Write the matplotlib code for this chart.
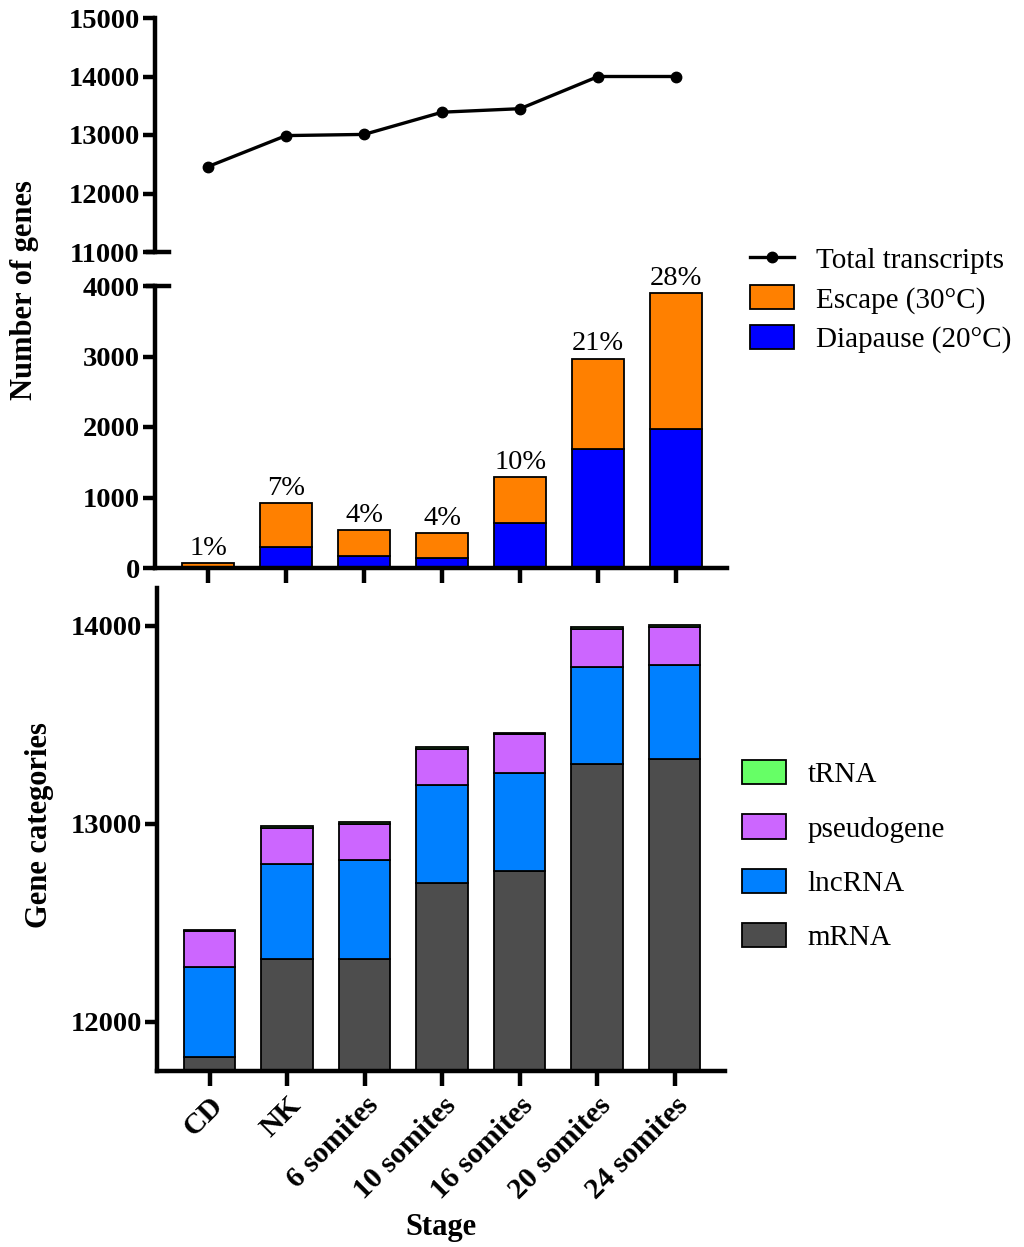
import matplotlib
matplotlib.use("Agg")
import matplotlib.pyplot as plt
import numpy as np
from matplotlib.lines import Line2D
from matplotlib.patches import Patch

plt.rcParams["font.family"] = ["Liberation Serif", "DejaVu Serif"]

stages = ["CD", "NK", "6 somites", "10 somites", "16 somites", "20 somites", "24 somites"]

# total transcripts per stage
total = [12460, 12990, 13010, 13390, 13450, 14000, 14000]

# temperature-dependent genes
diapause = [0, 295, 165, 145, 645, 1690, 1970]
escape = [75, 625, 370, 345, 645, 1280, 1930]
pct_labels = ["1%", "7%", "4%", "4%", "10%", "21%", "28%"]

# gene categories (stacked)
mrna = [11820, 12315, 12315, 12700, 12760, 13300, 13325]
lncrna = [455, 480, 500, 495, 495, 490, 475]
pseudogene = [180, 185, 185, 180, 195, 195, 195]
trna = [8, 10, 10, 10, 10, 8, 8]

c_escape = "#FF8000"
c_diapause = "#0000FF"
c_mrna = "#4D4D4D"
c_lnc = "#0080FF"
c_pseudo = "#CC66FF"
c_trna = "#66FF66"

W, H = 1024, 1247
fig = plt.figure(figsize=(W / 100, H / 100), dpi=100)

def px_axes(left, top, right, bottom):
    return fig.add_axes([left / W, 1 - bottom / H, (right - left) / W, (bottom - top) / H])

ax_top = px_axes(155, 18, 727, 252)
ax_mid = px_axes(155, 286, 727, 568)
ax_bot = px_axes(157, 588, 725, 1071)

x = np.arange(len(stages))
bw = 0.665
xlim = (-0.68, 6.65)
spine_w = 3.2
tick_kw = dict(length=9, width=spine_w, direction="out", labelsize=20.5, pad=2)

for ax in (ax_top, ax_mid, ax_bot):
    for s in ("top", "right"):
        ax.spines[s].set_visible(False)
    for s in ("left", "bottom"):
        ax.spines[s].set_linewidth(spine_w)
    ax.set_xlim(*xlim)
    ax.tick_params(axis="both", **tick_kw)

# --- total transcripts line ---
ax_top.plot(x, total, color="black", lw=2.4, marker="o", ms=7.5, clip_on=False)
ax_top.set_ylim(11000, 15000)
ax_top.set_yticks([11000, 12000, 13000, 14000, 15000])
ax_top.spines["bottom"].set_visible(False)
ax_top.tick_params(axis="x", bottom=False, labelbottom=False)
ax_top.axhline(11000, xmin=-0.013, xmax=0.025, color="black", lw=spine_w, clip_on=False)

# --- escape / diapause bars ---
ax_mid.bar(x, diapause, bw, color=c_diapause, edgecolor="black", lw=1.3)
ax_mid.bar(x, escape, bw, bottom=diapause, color=c_escape, edgecolor="black", lw=1.3)
tops = np.array(diapause) + np.array(escape)
for xi, t, lab in zip(x, tops, pct_labels):
    ax_mid.text(xi, t + 30, lab, ha="center", va="bottom", fontsize=20.5)
ax_mid.set_ylim(0, 4000)
ax_mid.set_yticks([0, 1000, 2000, 3000, 4000])
ax_mid.set_xticks(x)
ax_mid.tick_params(axis="x", labelbottom=False, length=11)
ax_mid.axhline(4000, xmin=-0.013, xmax=0.025, color="black", lw=spine_w, clip_on=False)

# --- gene categories ---
b = np.zeros(len(stages))
ax_bot.bar(x, mrna, bw, color=c_mrna, edgecolor="black", lw=1.3)
b += mrna
ax_bot.bar(x, lncrna, bw, bottom=b, color=c_lnc, edgecolor="black", lw=1.3)
b += lncrna
ax_bot.bar(x, pseudogene, bw, bottom=b, color=c_pseudo, edgecolor="black", lw=1.3)
b += pseudogene
ax_bot.bar(x, trna, bw, bottom=b, color=c_trna, edgecolor="black", lw=1.3)
ax_bot.set_ylim(11750, 14190)
ax_bot.set_yticks([12000, 13000, 14000])
ax_bot.set_xticks(x)
ax_bot.set_xticklabels(stages, rotation=45, ha="right", rotation_mode="anchor",
                       fontweight="bold", fontsize=21.5)
ax_bot.tick_params(axis="x", length=11, pad=4)

for ax in (ax_top, ax_mid, ax_bot):
    for lab in ax.get_yticklabels():
        lab.set_fontweight("bold")

# axis titles
fig.text(25 / W, 1 - 290 / H, "Number of genes", rotation=90, ha="center", va="center",
         fontsize=22, fontweight="bold")
fig.text(40 / W, 1 - 825 / H, "Gene categories", rotation=90, ha="center", va="center",
         fontsize=22, fontweight="bold")
fig.text(441 / W, 1 - 1228 / H, "Stage", ha="center", va="center",
         fontsize=22, fontweight="bold")

# legends
h1 = [Line2D([], [], color="black", lw=2.4, marker="o", ms=7.5),
      Patch(facecolor=c_escape, edgecolor="black", lw=1.3),
      Patch(facecolor=c_diapause, edgecolor="black", lw=1.3)]
fig.legend(h1, ["Total transcripts", "Escape (30°C)", "Diapause (20°C)"],
           loc="upper left", bbox_to_anchor=(750 / W, 1 - 246 / H), frameon=False,
           fontsize=21, handlelength=1.5, handleheight=0.9, handletextpad=0.75,
           labelspacing=0.38, borderpad=0, borderaxespad=0)

h2 = [Patch(facecolor=c, edgecolor="black", lw=1.3) for c in (c_trna, c_pseudo, c_lnc, c_mrna)]
fig.legend(h2, ["tRNA", "pseudogene", "lncRNA", "mRNA"],
           loc="upper left", bbox_to_anchor=(742 / W, 1 - 760 / H), frameon=False,
           fontsize=21, handlelength=1.5, handleheight=0.9, handletextpad=0.75,
           labelspacing=0.9, borderpad=0, borderaxespad=0)

fig.savefig("out.png", dpi=100)
